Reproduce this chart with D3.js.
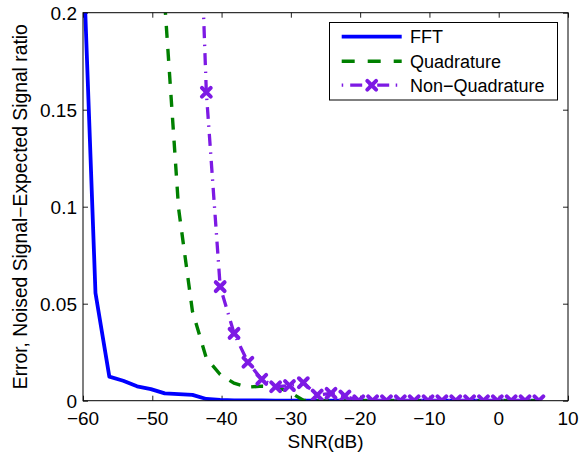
<!DOCTYPE html>
<html>
<head>
<meta charset="utf-8">
<script src="https://cdn.jsdelivr.net/npm/d3@7"></script>
<style>
body { margin: 0; background: #fff; }
text { font-family: "Liberation Sans", Arial, sans-serif; }
</style>
</head>
<body>
<script>
// snr values (dB) shared by the three curves
var snr = [-60.2, -58.2, -56.2, -54.2, -52.2, -50.2, -48.2, -46.2, -44.2, -42.2,
  -40.2, -38.2, -36.2, -34.2, -32.2, -30.2, -28.2, -26.2, -24.2, -22.2,
  -20.2, -18.2, -16.2, -14.2, -12.2, -10.2, -8.2, -6.2, -4.2, -2.2,
  -0.2, 1.8, 3.8, 5.8];

var fft = [0.252, 0.0555, 0.0124, 0.0103, 0.0074, 0.006, 0.0038, 0.0034, 0.003, 0.0009,
  0.0004, 0.0002, 0.0002, 0.0001, 0, 0, 0, 0, 0, 0,
  0, 0, 0, 0, 0, 0, 0, 0, 0, 0,
  0, 0, 0, 0];

var quadrature = [null, null, null, null, null, null, 0.205, 0.099, 0.046, 0.022,
  0.0135, 0.009, 0.007, 0.0075, 0.0073, 0.0045, 0.0002, 0, 0, 0,
  0, 0, 0, 0, 0, 0, 0, 0, 0, 0,
  0, 0, 0, 0];

var nonQuadrature = [null, null, null, null, null, null, null, null, 0.36, 0.159,
  0.0588, 0.0347, 0.0198, 0.011, 0.0072, 0.0078, 0.0093, 0.0029, 0.0038, 0.0024,
  0, 0, 0, 0, 0, 0, 0, 0, 0, 0,
  0, 0, 0, 0];

var seriesNames = ["FFT", "Quadrature", "Non\u2212Quadrature"];
var xTicks = [-60, -50, -40, -30, -20, -10, 0, 10];
var yTicks = [0, 0.05, 0.1, 0.15, 0.2];
var yTickLabels = ["0", "0.05", "0.1", "0.15", "0.2"];

var W = 579, H = 454;
var margin = {left: 83, right: 11, top: 12.7, bottom: 53.3};

var svg = d3.select("body").append("svg")
  .attr("width", W)
  .attr("height", H);

var x = d3.scaleLinear().domain([-60, 10]).range([margin.left, W - margin.right]);
var y = d3.scaleLinear().domain([0, 0.2]).range([H - margin.bottom, margin.top]);

svg.append("clipPath").attr("id", "plotclip")
  .append("rect")
  .attr("x", x(-60)).attr("y", y(0.2))
  .attr("width", x(10) - x(-60)).attr("height", y(0) - y(0.2));

// ticks, inside the box on all four sides
var tickLen = 5;
svg.append("g")
  .attr("transform", "translate(0," + y(0) + ")")
  .call(d3.axisTop(x).tickValues(xTicks).tickSize(tickLen).tickFormat(""))
  .call(function(g) { g.select(".domain").remove(); });
svg.append("g")
  .attr("transform", "translate(0," + y(0.2) + ")")
  .call(d3.axisBottom(x).tickValues(xTicks).tickSize(tickLen).tickFormat(""))
  .call(function(g) { g.select(".domain").remove(); });
svg.append("g")
  .attr("transform", "translate(" + x(-60) + ",0)")
  .call(d3.axisRight(y).tickValues(yTicks).tickSize(tickLen).tickFormat(""))
  .call(function(g) { g.select(".domain").remove(); });
svg.append("g")
  .attr("transform", "translate(" + x(10) + ",0)")
  .call(d3.axisLeft(y).tickValues(yTicks).tickSize(tickLen).tickFormat(""))
  .call(function(g) { g.select(".domain").remove(); });
svg.selectAll(".tick line").attr("stroke", "#222").attr("stroke-width", 1);

// tick labels
svg.append("g").selectAll("text")
  .data(xTicks)
  .enter().append("text")
  .attr("x", function(d) { return x(d); })
  .attr("y", y(0) + 24.3)
  .attr("text-anchor", "middle")
  .style("font-size", "19px")
  .text(function(d) { return d3.format("")(d); });

svg.append("g").selectAll("text")
  .data(yTicks)
  .enter().append("text")
  .attr("x", x(-60) - 6)
  .attr("y", function(d) { return y(d) + 6.8; })
  .attr("text-anchor", "end")
  .style("font-size", "19px")
  .text(function(d, i) { return yTickLabels[i]; });

// axis titles
svg.append("text")
  .attr("x", (x(-60) + x(10)) / 2)
  .attr("y", 448)
  .attr("text-anchor", "middle")
  .style("font-size", "19px")
  .text("SNR(dB)");

svg.append("text")
  .attr("transform", "translate(27," + (y(0) + y(0.2)) / 2 + ") rotate(-90)")
  .attr("text-anchor", "middle")
  .style("font-size", "19.3px")
  .text("Error, Noised Signal\u2212Expected Signal ratio");

// curves
var plot = svg.append("g").attr("clip-path", "url(#plotclip)");

function lineFor(values) {
  return d3.line()
    .defined(function(d, i) { return values[i] !== null; })
    .x(function(d, i) { return x(snr[i]); })
    .y(function(d, i) { return y(values[i]); })(snr);
}

var blue = "#0000ff", green = "#008000", purple = "#7d1ae4";

plot.append("path")
  .attr("d", lineFor(fft))
  .attr("fill", "none")
  .attr("stroke", blue)
  .attr("stroke-width", 3.8)
  .attr("stroke-linejoin", "round");

plot.append("path")
  .attr("d", lineFor(quadrature))
  .attr("fill", "none")
  .attr("stroke", green)
  .attr("stroke-width", 3.4)
  .attr("stroke-dasharray", "12,11");

plot.append("path")
  .attr("d", lineFor(nonQuadrature))
  .attr("fill", "none")
  .attr("stroke", purple)
  .attr("stroke-width", 3.3)
  .attr("stroke-dasharray", "12,6.5,1.5,7");

function cross(sel) {
  sel.append("path")
    .attr("d", "M-4.4,-4.4L4.4,4.4M-4.4,4.4L4.4,-4.4")
    .attr("fill", "none")
    .attr("stroke", purple)
    .attr("stroke-width", 4)
    .attr("stroke-linecap", "round");
}

var markIdx = d3.range(snr.length).filter(function(i) {
  return nonQuadrature[i] !== null && nonQuadrature[i] <= 0.2;
});
plot.selectAll("g.mark")
  .data(markIdx)
  .enter().append("g")
  .attr("class", "mark")
  .attr("transform", function(i) { return "translate(" + x(snr[i]) + "," + y(nonQuadrature[i]) + ")"; })
  .call(cross);

// axes box
svg.append("rect")
  .attr("x", x(-60)).attr("y", y(0.2))
  .attr("width", x(10) - x(-60)).attr("height", y(0) - y(0.2))
  .attr("fill", "none")
  .attr("stroke", "#000")
  .attr("stroke-width", 1);

// legend
var legend = svg.append("g");
legend.append("rect")
  .attr("x", 329.5).attr("y", 22.5)
  .attr("width", 228).attr("height", 77.5)
  .attr("fill", "#fff")
  .attr("stroke", "#000")
  .attr("stroke-width", 1);

var rowY = [36.7, 61.2, 85.2];
var colors = [blue, green, purple];
var dashes = [null, "13,13", "1.5,7,12,6.5"];
var widths = [3.8, 3.4, 3.3];

seriesNames.forEach(function(name, i) {
  legend.append("line")
    .attr("x1", 341.7).attr("x2", 401.7)
    .attr("y1", rowY[i]).attr("y2", rowY[i])
    .attr("stroke", colors[i])
    .attr("stroke-width", widths[i])
    .attr("stroke-dasharray", dashes[i]);
  legend.append("text")
    .attr("x", 410)
    .attr("y", rowY[i] + 6.5)
    .style("font-size", "18px")
    .text(name);
});
legend.append("g")
  .attr("transform", "translate(371.7," + rowY[2] + ")")
  .call(cross);
</script>
</body>
</html>
